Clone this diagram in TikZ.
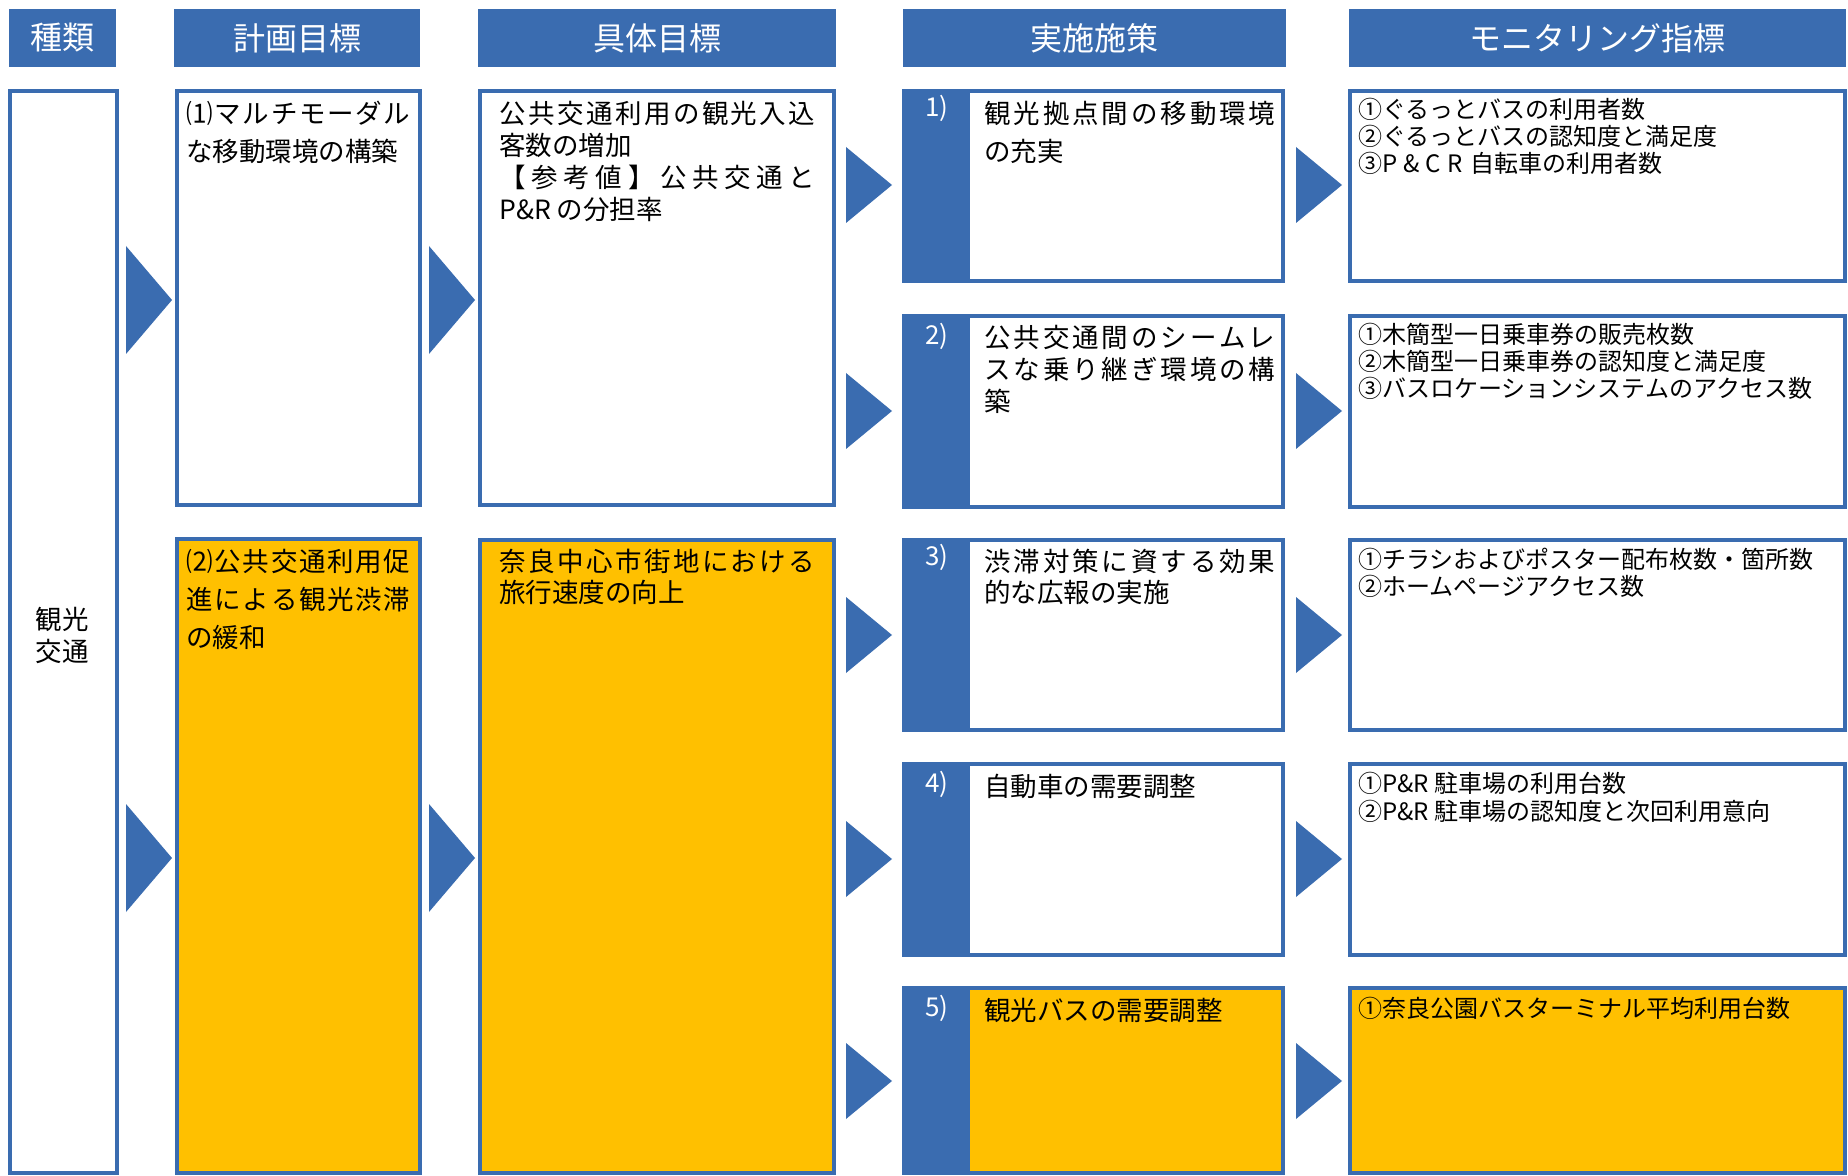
\documentclass[tikz,border=0pt]{standalone}
\usepackage{fontspec}
\setmainfont{Noto Sans CJK JP}
\usetikzlibrary{fit}
\definecolor{hblue}{RGB}{58,108,176}
\definecolor{gold}{RGB}{255,192,0}
\makeatletter
\def\spreadchars#1{\ifx#1\relax\else#1\hfil\expandafter\spreadchars\fi}
\makeatother
\newcommand\jus[2]{\makebox[#1][s]{\spreadchars#2\relax\unskip}}
\newcommand\tri[3]{\fill[arr] (#1,{#2-#3}) -- ({#1+46},#2) -- (#1,{#2+#3}) -- cycle;}
\newcommand\bodytxt[3]{\parbox[t]{#1}{\fontsize{13.25pt}{#2}\selectfont #3}}
\newcommand\montxt[2]{\parbox[t]{240pt}{\fontsize{12pt}{#1}\selectfont #2}}
\tikzset{
  hdr/.style={fill=hblue, draw=none, inner sep=0pt},
  htext/.style={text=white, inner sep=0pt, font=\fontsize{16pt}{18pt}\selectfont},
  box/.style={draw=hblue, line width=2pt, fill=white, inner sep=0pt},
  goldbox/.style={box, fill=gold},
  band/.style={fill=hblue},
  arr/.style={fill=hblue},
  txt/.style={anchor=base west, inner sep=0pt},
  num/.style={text=white, inner sep=0pt, font=\fontsize{13pt}{15pt}\selectfont},
}
\begin{document}
\begin{tikzpicture}[x=0.5pt,y=-0.5pt]
\useasboundingbox (0,0) rectangle (1848,1176);
\fill[white] (0,0) rectangle (1848,1176);

% headers
\node[hdr, fit={(9,9)(116,67)}] (h1) {};
\node[hdr, fit={(174,9)(420,67)}] (h2) {};
\node[hdr, fit={(478,9)(836,67)}] (h3) {};
\node[hdr, fit={(903,9)(1286,67)}] (h4) {};
\node[hdr, fit={(1349,9)(1846,67)}] (h5) {};
\node[htext] (ht1) at (h1.center) {種類};
\node[htext] (ht2) at (h2.center) {計画目標};
\node[htext] (ht3) at (h3.center) {具体目標};
\node[htext] (ht4) at (h4.center) {実施施策};
\node[htext] (ht5) at (h5.center) {モニタリング指標};

% type column
\node[box, fit={(10,91)(117,1173)}] (b0) {};
\node[align=center, inner sep=0pt, font=\fontsize{13.25pt}{16pt}\selectfont] (lab) at (62,635) {観光\\交通};

% plan goals
\node[box, fit={(177,91)(420,505)}] (p1) {};
\node[goldbox, fit={(177,539)(420,1173)}] (p2) {};
% concrete goals
\node[box, fit={(480,91)(834,505)}] (g1) {};
\node[goldbox, fit={(480,540)(834,1173)}] (g2) {};

% measures
\node[box, fit={(904,91)(1283,281)}] (s1) {};
\node[box, fit={(904,316)(1283,507)}] (s2) {};
\node[box, fit={(904,540)(1283,730)}] (s3) {};
\node[box, fit={(904,764)(1283,955)}] (s4) {};
\node[goldbox, fit={(904,988)(1283,1173)}] (s5) {};
\fill[band] (902,89) rectangle (970,283);
\fill[band] (902,314) rectangle (970,509);
\fill[band] (902,538) rectangle (970,732);
\fill[band] (902,762) rectangle (970,957);
\fill[band] (902,986) rectangle (970,1175);

% monitoring
\node[box, fit={(1350,91)(1845,281)}] (m1) {};
\node[box, fit={(1350,316)(1845,507)}] (m2) {};
\node[box, fit={(1350,540)(1845,730)}] (m3) {};
\node[box, fit={(1350,764)(1845,955)}] (m4) {};
\node[goldbox, fit={(1350,988)(1845,1173)}] (m5) {};

% arrows
\tri{126}{300}{54}
\tri{126}{858}{54}
\tri{429}{300}{54}
\tri{429}{858}{54}
\foreach \yy in {185,411,635,859,1081}{
  \tri{846}{\yy}{38}
  \tri{1296}{\yy}{38}
}

% numbers
\node[num] (n1) at (937,108) {1)};
\node[num] (n2) at (937,336) {2)};
\node[num] (n3) at (937,557) {3)};
\node[num] (n4) at (937,784) {4)};
\node[num] (n5) at (937,1008) {5)};

% texts
\node[txt] (tp1) at (186,124) {\bodytxt{112pt}{19pt}{\jus{112pt}{⑴マルチモーダル}\\な移動環境の構築}};
\node[txt] (tp2) at (186,572) {\bodytxt{112pt}{19pt}{\jus{112pt}{⑵公共交通利用促}\\\jus{112pt}{進による観光渋滞}\\の緩和}};
\node[txt] (tg1) at (499,124) {\bodytxt{158pt}{16pt}{\jus{158pt}{公共交通利用の観光入込}\\客数の増加\\\jus{158pt}{【参考値】公共交通と}\\P\&R の分担率}};
\node[txt] (tg2) at (499,572) {\bodytxt{158pt}{15.5pt}{\jus{158pt}{奈良中心市街地における}\\旅行速度の向上}};

\node[txt] (ts1) at (984,124) {\bodytxt{145.5pt}{19pt}{\jus{145.5pt}{観光拠点間の移動環境}\\の充実}};
\node[txt] (ts2) at (984,348) {\bodytxt{145.5pt}{16pt}{\jus{145.5pt}{公共交通間のシームレ}\\\jus{145.5pt}{スな乗り継ぎ環境の構}\\築}};
\node[txt] (ts3) at (984,572) {\bodytxt{145.5pt}{15.5pt}{\jus{145.5pt}{渋滞対策に資する効果}\\的な広報の実施}};
\node[txt] (ts4) at (984,796) {\bodytxt{145.5pt}{16pt}{自動車の需要調整}};
\node[txt] (ts5) at (984,1020) {\bodytxt{145.5pt}{16pt}{観光バスの需要調整}};

\node[txt] (tm1) at (1358,119) {\montxt{13.5pt}{①ぐるっとバスの利用者数\\②ぐるっとバスの認知度と満足度\\③\makebox[40pt][s]{P\hfil\&\hfil C\hfil R}\hspace{4pt}自転車の利用者数}};
\node[txt] (tm2) at (1358,344) {\montxt{13.5pt}{①木簡型一日乗車券の販売枚数\\②木簡型一日乗車券の認知度と満足度\\③バスロケーションシステムのアクセス数}};
\node[txt] (tm3) at (1358,568) {\montxt{13.5pt}{①チラシおよびポスター配布枚数・箇所数\\②ホームページアクセス数}};
\node[txt] (tm4) at (1358,792) {\montxt{14pt}{①P\&R 駐車場の利用台数\\②P\&R 駐車場の認知度と次回利用意向}};
\node[txt] (tm5) at (1358,1017) {\montxt{13.5pt}{①奈良公園バスターミナル平均利用台数}};
\end{tikzpicture}
\end{document}
